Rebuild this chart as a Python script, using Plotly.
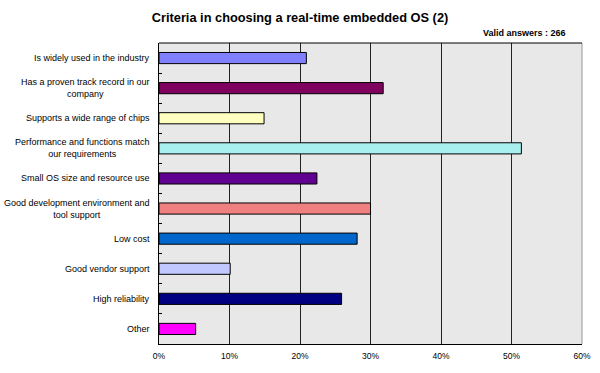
import plotly.graph_objects as go

categories = [
    "Is widely used in the industry",
    "Has a proven track record in our<br>company",
    "Supports a wide range of chips",
    "Performance and functions match<br>our requirements",
    "Small OS size and resource use",
    "Good development environment and<br>tool support",
    "Low cost",
    "Good vendor support",
    "High reliability",
    "Other",
]
values = [20.9, 31.8, 14.9, 51.4, 22.4, 30.0, 28.1, 10.1, 25.9, 5.2]
colors = ["#8080FF", "#800060", "#FFFFC0", "#A8F0F0", "#600090",
          "#F08080", "#0066CC", "#C0C8FF", "#000080", "#FF00FF"]
x_ticks = [0, 10, 20, 30, 40, 50, 60]
x_labels = [f"{v}%" for v in x_ticks]

font_family = "Liberation Sans, Arial, sans-serif"
L, R, T, B = 159, 18, 43, 29
plot_w = 600 - L - R
plot_h = 373 - T - B

fig = go.Figure()
fig.add_trace(go.Bar(
    x=values, y=list(range(len(categories))), orientation="h",
    marker=dict(color=colors, line=dict(color="#000000", width=1)),
    width=0.37, hoverinfo="skip",
))

annotations = []
for i, c in enumerate(categories):
    annotations.append(dict(
        x=0, xref="paper", y=i, yref="y", text=c, showarrow=False,
        xanchor="right", xshift=-7, align="center",
        font=dict(family=font_family, size=9, color="#000000"),
    ))
annotations.append(dict(
    text="<b>Valid answers : 266</b>", x=(568 - L) / plot_w, xref="paper",
    y=(373 - B - 33) / plot_h, yref="paper", showarrow=False,
    xanchor="right", yanchor="middle",
    font=dict(family=font_family, size=9, color="#000000"),
))

fig.add_shape(type="line", xref="paper", yref="paper", x0=1, x1=1, y0=0, y1=1,
              line=dict(color="#999999", width=1))
fig.add_shape(type="line", xref="paper", yref="paper", x0=0, x1=1, y0=1, y1=1,
              line=dict(color="#000000", width=1))

fig.update_layout(
    width=600, height=373,
    margin=dict(l=L, r=R, t=T, b=B, autoexpand=False),
    paper_bgcolor="#FFFFFF", plot_bgcolor="#E8E8E8",
    showlegend=False,
    title=dict(text="<b>Criteria in choosing a real-time embedded OS (2)</b>",
               x=0.5, xanchor="center", xref="container", y=1 - 18 / 373,
               yanchor="middle",
               font=dict(family=font_family, size=12.8, color="#000000")),
    annotations=annotations,
    xaxis=dict(range=[0, 60], tickvals=x_ticks, ticktext=x_labels,
               showgrid=True, gridcolor="#222222", gridwidth=1,
               showline=True, linecolor="#000000", linewidth=1, mirror=False,
               zeroline=False, ticks="", ticklen=0, ticklabelstandoff=4,
               tickfont=dict(family=font_family, size=8.5, color="#000000")),
    yaxis=dict(range=[9.5, -0.5], showticklabels=False, showgrid=False,
               zeroline=False, showline=True, linecolor="#000000", linewidth=1,
               tickvals=[i + 0.5 for i in range(-1, 10)], ticks="inside",
               ticklen=3, tickcolor="#000000"),
)

fig.write_html("out.html", config={"displayModeBar": False},
               post_script="document.body.style.margin='0';")
